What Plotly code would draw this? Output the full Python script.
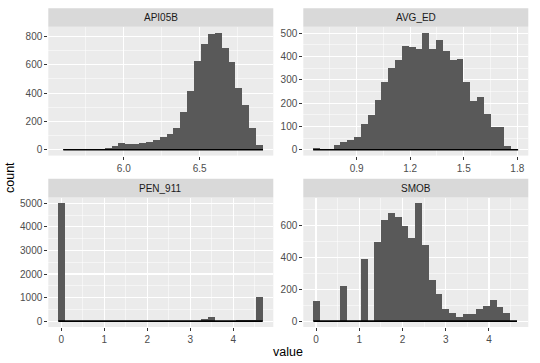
import plotly.graph_objects as go

W, H = 540, 363

# ---------------- data ----------------
panel_names = ["API05B", "AVG_ED", "PEN_911", "SMOB"]

api05b_start = 5.601
api05b_width = 0.04542
api05b_counts = [2, 2, 3, 3, 4, 6, 14, 28, 45, 38, 38, 50, 52, 72, 87, 108, 153,
                 267, 415, 630, 750, 815, 828, 722, 617, 436, 318, 155, 33]

avg_ed_start = 0.6567
avg_ed_width = 0.03826
avg_ed_counts = [8, 2, 2, 19, 34, 40, 54, 110, 150, 212, 291, 351, 385, 447, 442,
                 431, 503, 434, 471, 424, 384, 390, 292, 209, 228, 152, 96, 99, 16, 4]

pen_911_start = -0.07
pen_911_width = 0.1585
pen_911_counts = [5000, 10, 5, 3, 2, 2, 2, 2, 2, 2, 2, 2, 2, 2, 3, 3, 3, 5, 5, 8,
                  15, 70, 160, 20, 15, 25, 60, 60, 60, 1010]

smob_start = -0.0624
smob_width = 0.157
smob_counts = [127, 0, 0, 0, 220, 0, 0, 388, 0, 496, 636, 678, 653, 596, 521, 740,
               479, 256, 172, 78, 49, 25, 42, 47, 74, 97, 134, 87, 49, 0]

x_major = [[6.0, 6.5], [0.9, 1.2, 1.5, 1.8], [0, 1, 2, 3, 4], [0, 1, 2, 3, 4]]
x_minor = [[5.75, 6.25, 6.75], [0.75, 1.05, 1.35, 1.65],
           [0.5, 1.5, 2.5, 3.5, 4.5], [0.5, 1.5, 2.5, 3.5, 4.5]]
x_fmt = [".1f", ".1f", "d", "d"]
y_major = [[0, 200, 400, 600, 800], [0, 100, 200, 300, 400, 500],
           [0, 1000, 2000, 3000, 4000, 5000], [0, 200, 400, 600]]
y_minor = [[100, 300, 500, 700], [50, 150, 250, 350, 450],
           [500, 1500, 2500, 3500, 4500], [100, 300, 500, 700]]
x_ranges = [[5.502, 6.986], [0.6015, 1.8615], [-0.302, 4.93], [-0.294, 4.909]]

panels = [
    (api05b_start, api05b_width, api05b_counts),
    (avg_ed_start, avg_ed_width, avg_ed_counts),
    (pen_911_start, pen_911_width, pen_911_counts),
    (smob_start, smob_width, smob_counts),
]

# ---------------- layout geometry (window pixels) ----------------
cols = [(48.3, 273.3), (303.3, 528.3)]
rows = [(26.7, 155.6), (197.5, 327.0)]
strips = [(8.3, 26.7), (178.8, 197.5)]


def px(x):
    return x / W


def py(y):
    return 1 - y / H


BAR = "#595959"
PANEL_BG = "#EBEBEB"
STRIP_BG = "#D9D9D9"
FONT = "Liberation Sans, Arial, Helvetica, sans-serif"

fig = go.Figure()
layout = dict(
    width=W, height=H,
    margin=dict(l=0, r=0, t=0, b=0),
    paper_bgcolor="white",
    plot_bgcolor=PANEL_BG,
    showlegend=False,
    font=dict(family=FONT, color="#4D4D4D", size=10),
    shapes=[], annotations=[],
    bargap=0,
)

for k, (start, width, counts) in enumerate(panels):
    r, c = divmod(k, 2)
    idx = "" if k == 0 else str(k + 1)
    xa, ya = "x" + idx, "y" + idx
    centers = [start + width * (i + 0.5) for i in range(len(counts))]
    fig.add_trace(go.Bar(x=centers, y=counts, width=width, marker=dict(color=BAR, line=dict(width=0)),
                         xaxis=xa, yaxis=ya, hoverinfo="skip"))
    x0e = start
    x1e = start + width * len(counts)
    fig.add_trace(go.Scatter(x=[x0e, x1e], y=[0, 0], mode="lines",
                             line=dict(color="black", width=1.6),
                             xaxis=xa, yaxis=ya, hoverinfo="skip"))
    ymax = max(counts)
    left, right = cols[c]
    top, bot = rows[r]
    common = dict(
        showgrid=True, gridcolor="white", gridwidth=1.1,
        zeroline=False, showline=False,
        ticks="outside", ticklen=3, tickwidth=1, tickcolor="#333333",
        tickfont=dict(size=10, color="#4D4D4D", family=FONT),
    )
    layout["xaxis" + idx] = dict(
        domain=[px(left), px(right)], anchor=ya, range=x_ranges[k],
        tickvals=x_major[k], tickformat=x_fmt[k],
        minor=dict(tickvals=x_minor[k], showgrid=True, gridcolor="white", gridwidth=0.5, ticks=""),
        **common,
    )
    layout["yaxis" + idx] = dict(
        domain=[py(bot), py(top)], anchor=xa,
        range=[-0.05 * ymax, 1.05 * ymax],
        tickvals=y_major[k],
        minor=dict(tickvals=y_minor[k], showgrid=True, gridcolor="white", gridwidth=0.5, ticks=""),
        **common,
    )
    s0, s1 = strips[r]
    layout["shapes"].append(dict(type="rect", xref="paper", yref="paper",
                                 x0=px(left), x1=px(right), y0=py(s1), y1=py(s0),
                                 fillcolor=STRIP_BG, line=dict(width=0), layer="below"))
    layout["annotations"].append(dict(text=panel_names[k], xref="paper", yref="paper",
                                      x=px((left + right) / 2), y=py((s0 + s1) / 2),
                                      showarrow=False, xanchor="center", yanchor="middle",
                                      font=dict(size=10, color="#1A1A1A", family=FONT)))

layout["annotations"].append(dict(text="count", xref="paper", yref="paper",
                                  x=px(10), y=py(178), textangle=-90, showarrow=False,
                                  xanchor="center", yanchor="middle",
                                  font=dict(size=12.5, color="black", family=FONT)))
layout["annotations"].append(dict(text="value", xref="paper", yref="paper",
                                  x=px(288.3), y=py(351.5), showarrow=False,
                                  xanchor="center", yanchor="middle",
                                  font=dict(size=12.5, color="black", family=FONT)))

fig.update_layout(**layout)
fig.write_html(
    "out.html",
    config={"displayModeBar": False, "staticPlot": True},
    post_script="document.body.style.margin='0';document.body.style.overflow='hidden';",
)
